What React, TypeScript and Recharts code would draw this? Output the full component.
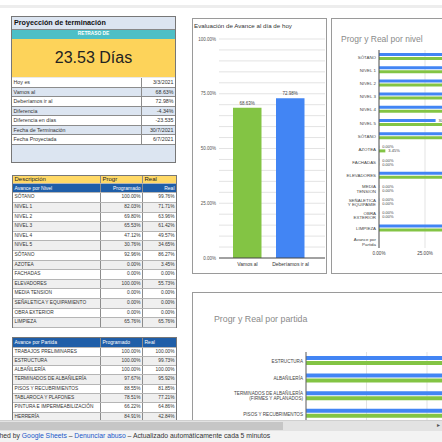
import React from "react";
import { BarChart, Bar, XAxis, YAxis, CartesianGrid, LabelList, Cell } from "recharts";

const PROY_LABELS = ["Hoy es", "Vamos al", "Deberíamos ir al", "Diferencia", "Diferencia en días", "Fecha de Terminación", "Fecha Proyectada"];
const PROY_VALUES = ["3/3/2021", "68.63%", "72.98%", "-4.34%", "-23.535", "30/7/2021", "6/7/2021"];
const RETRASO = "23.53 Días";

const AVANCE_CATS = ["Vamos al", "Deberíamos ir al"];
const AVANCE_VALS = [0.6863, 0.7298];
const AVANCE_TICKS = [0, 0.25, 0.5, 0.75, 1];
const AVANCE_GRID = [0.05, 0.1, 0.15, 0.2, 0.25, 0.3, 0.35, 0.4, 0.45, 0.5, 0.55, 0.6, 0.65, 0.7, 0.75, 0.8, 0.85, 0.9, 0.95, 1];

const NIVEL_NAMES = ["SÓTANO", "NIVEL 1", "NIVEL 2", "NIVEL 3", "NIVEL 4", "NIVEL 5", "SÓTANO", "AZOTEA", "FACHADAS", "ELEVADORES", "MEDIA TENSION", "SEÑALETICA Y EQUIPAMIENTO", "OBRA EXTERIOR", "LIMPIEZA"];
const NIVEL_TICKS = ["SÓTANO", "NIVEL 1", "NIVEL 2", "NIVEL 3", "NIVEL 4", "NIVEL 5", "SÓTANO ", "AZOTEA", "FACHADAS", "ELEVADORES", "MEDIA\nTENSION", "SEÑALETICA\nY EQUIPAMIE", "OBRA\nEXTERIOR", "LIMPIEZA", "Avance por\nPartida"];
const NIVEL_PROGR = [1, 0.8203, 0.698, 0.6553, 0.4712, 0.3076, 0.9296, 0, 0, 1, 0, 0, 0, 0.6576];
const NIVEL_REAL = [0.9976, 0.7171, 0.6396, 0.6142, 0.4957, 0.3465, 0.8627, 0.0345, 0, 0.5573, 0, 0, 0, 0.6576];

const PARTIDA_NAMES = ["TRABAJOS PRELIMINARES", "ESTRUCTURA", "ALBAÑILERÍA", "TERMINADOS DE ALBAÑILERÍA", "PISOS Y RECUBRIMIENTOS", "TABLAROCA Y PLAFONES", "PINTURA E IMPERMEABILIZACIÓN", "HERRERÍA"];
const PARTIDA_TICKS = ["TRABAJOS PRELIMINARES", "ESTRUCTURA", "ALBAÑILERÍA", "TERMINADOS DE ALBAÑILERÍA\n(FIRMES Y APLANADOS)", "PISOS Y RECUBRIMENTOS", "TABLAROCA Y PLAFONES", "PINTURA E\nIMPERMEABILIZACIÓN", "HERRERÍA"];
const PARTIDA_PROGR = [1, 1, 1, 0.9767, 0.8855, 0.7851, 0.6622, 0.8491];
const PARTIDA_REAL = [1, 0.9973, 1, 0.9592, 0.8185, 0.7721, 0.6486, 0.4284];

const PCT_TICKS = [0, 0.25, 0.5, 0.75, 1];

const BLUE = "#4285f4";
const GREEN = "#83c444";
const FONT = '"Liberation Sans", Arial, sans-serif';

const pct = (v: any) => (v == null || v === "" ? "" : `${(Number(v) * 100).toFixed(2)}%`);

const avanceData = AVANCE_CATS.map((name, i) => ({ name, value: AVANCE_VALS[i] }));
const nivelData = NIVEL_TICKS.map((name, i) => ({
  name,
  progr: i < NIVEL_PROGR.length ? NIVEL_PROGR[i] : null,
  real: i < NIVEL_REAL.length ? NIVEL_REAL[i] : null,
}));
const partidaData = PARTIDA_TICKS.slice(1).map((name, i) => ({
  name,
  progr: PARTIDA_PROGR[i + 1],
  real: PARTIDA_REAL[i + 1],
}));

function MultiTick(props: any) {
  const { x, y, payload, fs, lh } = props;
  const lines = String(payload.value).split("\n");
  const y0 = y - ((lines.length - 1) * lh) / 2;
  return (
    <text x={x} y={y0} textAnchor="end" fontSize={fs} fill="#444" dominantBaseline="central" fontFamily={FONT}>
      {lines.map((l, i) => (
        <tspan key={i} x={x} dy={i === 0 ? 0 : lh}>
          {l}
        </tspan>
      ))}
    </text>
  );
}

function FlatTick(props: any) {
  const { x, y, payload } = props;
  return (
    <text x={x} y={y} dy={4} textAnchor="middle" fontSize={5} fill="#333" fontFamily={FONT}>
      {payload.value}
    </text>
  );
}

function ZeroSafeLabel(props: any) {
  const { x, y, width, height, value } = props;
  if (value == null) return null;
  return (
    <text x={Number(x) + Number(width || 0) + 3} y={Number(y) + Number(height) / 2} dominantBaseline="central" fontSize={4} fill="#444" fontFamily={FONT}>
      {pct(value)}
    </text>
  );
}

const COLS = [88, 42, 33];

function TRow({ cells, h, bg, color = "#333", weight = 400, fs = 5.5, aligns = ["left", "right", "right"] }: any) {
  return (
    <div style={{ display: "flex", height: h, background: bg, borderBottom: "1px solid #b5b5b5", boxSizing: "border-box" }}>
      {cells.map((c: string, i: number) => (
        <div
          key={i}
          style={{
            width: COLS[i],
            boxSizing: "border-box",
            borderRight: i < 2 ? "1px solid #8c8c8c" : "none",
            padding: "0 1.5px",
            textAlign: aligns[i],
            fontSize: fs,
            lineHeight: `${h - 1}px`,
            color,
            fontWeight: weight,
            whiteSpace: "nowrap",
            overflow: "hidden",
          }}
        >
          {c}
        </div>
      ))}
    </div>
  );
}

function Proyeccion() {
  return (
    <div style={{ position: "absolute", left: 11, top: 16, width: 165, height: 147, border: "1px solid #777", background: "#dce5f1", boxSizing: "border-box", overflow: "hidden" }}>
      <div style={{ height: 12, fontSize: 7.2, fontWeight: 700, lineHeight: "12px", paddingLeft: 2, color: "#111", borderBottom: "1px solid #888" }}>
        Proyección de terminación
      </div>
      <div style={{ height: 8.5, background: "#4dbfc6", color: "#fff", fontSize: 4.8, fontWeight: 700, textAlign: "center", lineHeight: "8.5px" }}>
        RETRASO DE
      </div>
      <div style={{ height: 38.5, background: "#fdd35a", fontSize: 16, textAlign: "center", lineHeight: "38px", color: "#222", borderBottom: "1.5px solid #e9e9e9" }}>
        {RETRASO}
      </div>
      {PROY_LABELS.map((l, i) => (
        <div key={i} style={{ display: "flex", height: 9.5, background: i % 2 === 0 ? "#fff" : "#dce5f1", borderBottom: "1px solid #8c8c8c", boxSizing: "border-box", fontSize: 5.3, color: "#333", lineHeight: "8.5px" }}>
          <div style={{ width: 131, paddingLeft: 1.5, borderRight: "1px solid #8c8c8c", boxSizing: "border-box" }}>{l}</div>
          <div style={{ width: 32, textAlign: "right", paddingRight: 1.5 }}>{PROY_VALUES[i]}</div>
        </div>
      ))}
    </div>
  );
}

function TablaNivel() {
  return (
    <div style={{ position: "absolute", left: 12, top: 174.5, width: 163, border: "1px solid #777", borderBottom: "none", background: "#fff" }}>
      <TRow cells={["Descripción", "Progr", "Real"]} h={8.2} bg="#ffd966" color="#222" fs={6} aligns={["left", "left", "left"]} />
      <TRow cells={["Avance por Nivel", "Programado", "Real"]} h={9.8} bg="#1f5ea8" color="#fff" fs={5} />
      {NIVEL_NAMES.map((n, i) => (
        <TRow key={i} cells={[n, pct(NIVEL_PROGR[i]), pct(NIVEL_REAL[i])]} h={9.6} bg={i % 2 === 0 ? "#fff" : "#efefef"} fs={4.8} />
      ))}
    </div>
  );
}

function TablaPartida() {
  return (
    <div style={{ position: "absolute", left: 12, top: 336.5, width: 163, border: "1px solid #777", borderBottom: "none", background: "#fff" }}>
      <TRow cells={["Avance por Partida", "Programado", "Real"]} h={10} bg="#1f5ea8" color="#fff" fs={5} aligns={["left", "left", "left"]} />
      {PARTIDA_NAMES.map((n, i) => (
        <TRow key={i} cells={[n, pct(PARTIDA_PROGR[i]), pct(PARTIDA_REAL[i])]} h={9.3} bg={i % 2 === 0 ? "#fff" : "#efefef"} fs={4.8} />
      ))}
    </div>
  );
}

function AvanceChart() {
  return (
    <div style={{ position: "absolute", left: 192, top: 18, width: 135, height: 256, border: "1px solid #9a9a9a", boxSizing: "border-box", background: "#fff" }}>
      <div style={{ position: "absolute", left: 1, top: 3, fontSize: 6.2, color: "#333", whiteSpace: "nowrap" }}>Evaluación de Avance al día de hoy</div>
      <div style={{ position: "absolute", left: -1, top: -1 }}>
        <BarChart width={135} height={256} data={avanceData} margin={{ top: 21, right: 2, bottom: 4, left: 0 }}>
          <CartesianGrid vertical={false} horizontalValues={AVANCE_GRID} stroke="#e3e3e3" />
          <YAxis
            domain={[0, 1]}
            ticks={AVANCE_TICKS}
            tickFormatter={pct}
            width={27}
            axisLine={false}
            tickLine={false}
            tickSize={1}
            tickMargin={2}
            tick={{ fontSize: 4.5, fill: "#555", fontFamily: FONT }}
            interval={0}
          />
          <XAxis
            dataKey="name"
            height={12}
            axisLine={{ stroke: "#444" }}
            tickLine={false}
            tickSize={2}
            tickMargin={2}
            padding={{ left: 7, right: 13 }}
            tick={(p: any) => <FlatTick {...p} />}
            interval={0}
          />
          <Bar dataKey="value" barSize={28.5} isAnimationActive={false}>
            {avanceData.map((_, i) => (
              <Cell key={i} fill={i === 0 ? GREEN : BLUE} />
            ))}
            <LabelList dataKey="value" position="top" offset={3} formatter={pct} style={{ fontSize: 4.5, fill: "#444", fontFamily: FONT }} />
          </Bar>
        </BarChart>
      </div>
    </div>
  );
}

function NivelChart() {
  return (
    <div style={{ position: "absolute", left: 331, top: 18, width: 112, height: 256, border: "1px solid #9a9a9a", boxSizing: "border-box", background: "#fff", overflow: "hidden" }}>
      <div style={{ position: "absolute", left: 9, top: 15, fontSize: 8.5, color: "#8a8a8a", whiteSpace: "nowrap" }}>Progr y Real por nivel</div>
      <div style={{ position: "absolute", left: -1, top: -1 }}>
        <BarChart layout="vertical" width={240} height={256} data={nivelData} margin={{ top: 32, right: 8, bottom: 12, left: 0 }} barGap={1}>
          <CartesianGrid horizontal={false} stroke="#e3e3e3" />
          <XAxis
            type="number"
            domain={[0, 1]}
            ticks={PCT_TICKS}
            tickFormatter={pct}
            height={14}
            axisLine={false}
            tickLine={false}
            tickSize={2}
            tickMargin={2}
            tick={{ fontSize: 4.6, fill: "#444", fontFamily: FONT }}
            interval={0}
          />
          <YAxis
            type="category"
            dataKey="name"
            width={48}
            axisLine={{ stroke: "#555" }}
            tickLine={false}
            tickSize={0}
            tickMargin={3}
            interval={0}
            tick={(p: any) => <MultiTick {...p} fs={4.4} lh={4.6} />}
          />
          <Bar dataKey="progr" fill={BLUE} barSize={3} minPointSize={0.2} isAnimationActive={false}>
            <LabelList dataKey="progr" content={(p: any) => <ZeroSafeLabel {...p} />} />
          </Bar>
          <Bar dataKey="real" fill={GREEN} barSize={3} minPointSize={0.2} isAnimationActive={false}>
            <LabelList dataKey="real" content={(p: any) => <ZeroSafeLabel {...p} />} />
          </Bar>
        </BarChart>
      </div>
    </div>
  );
}

function PartidaChart() {
  return (
    <div style={{ position: "absolute", left: 192, top: 292, width: 251, height: 129, border: "1px solid #9a9a9a", boxSizing: "border-box", background: "#fff", overflow: "hidden" }}>
      <div style={{ position: "absolute", left: 21, top: 21, fontSize: 8.8, color: "#8a8a8a", whiteSpace: "nowrap" }}>Progr y Real por partida</div>
      <div style={{ position: "absolute", left: -1, top: -1 }}>
        <BarChart layout="vertical" width={366} height={202} data={partidaData} margin={{ top: 60, right: 10, bottom: 5, left: 0 }} barGap={1}>
          <CartesianGrid horizontal={false} stroke="#e3e3e3" />
          <XAxis type="number" domain={[0, 1]} ticks={PCT_TICKS} tickFormatter={pct} height={14} axisLine={false} tickLine={false} tick={{ fontSize: 4.6, fill: "#444" }} />
          <YAxis
            type="category"
            dataKey="name"
            width={114}
            axisLine={{ stroke: "#666" }}
            tickLine={false}
            tickSize={0}
            tickMargin={3}
            interval={0}
            tick={(p: any) => <MultiTick {...p} fs={4.6} lh={5} />}
          />
          <Bar dataKey="progr" fill={BLUE} barSize={4} isAnimationActive={false} />
          <Bar dataKey="real" fill={GREEN} barSize={4} isAnimationActive={false} />
        </BarChart>
      </div>
    </div>
  );
}

export default function App() {
  return (
    <div style={{ position: "fixed", left: 0, top: 0, width: 442, height: 442, overflow: "hidden", background: "#fff", fontFamily: FONT }}>
      <div style={{ position: "absolute", left: 0, top: 5, width: 442, height: 3, background: "#ededed" }} />
      <Proyeccion />
      <TablaNivel />
      <TablaPartida />
      <AvanceChart />
      <NivelChart />
      <PartidaChart />
      <div style={{ position: "absolute", left: 0, top: 420, width: 442, height: 11, background: "#e3e3e3", borderTop: "1px solid #d0d0d0", boxSizing: "border-box" }}>
        <div style={{ position: "absolute", left: 0, top: 1, width: 283, height: 8, background: "#c6c6c6" }} />
        <div style={{ position: "absolute", right: 2, top: 0, fontSize: 6, color: "#555", lineHeight: "9px" }}>▸</div>
      </div>
      <div style={{ position: "absolute", left: 0, top: 431, width: 442, height: 11, background: "#f3f3f3" }}>
        <div style={{ position: "absolute", left: -19, top: 0, fontSize: 6.8, lineHeight: "10px", color: "#333", whiteSpace: "nowrap" }}>
          Published by <span style={{ color: "#1a57c9" }}>Google Sheets</span> – <span style={{ color: "#1a57c9" }}>Denunciar abuso</span> – Actualizado automáticamente cada 5 minutos
        </div>
      </div>
    </div>
  );
}
